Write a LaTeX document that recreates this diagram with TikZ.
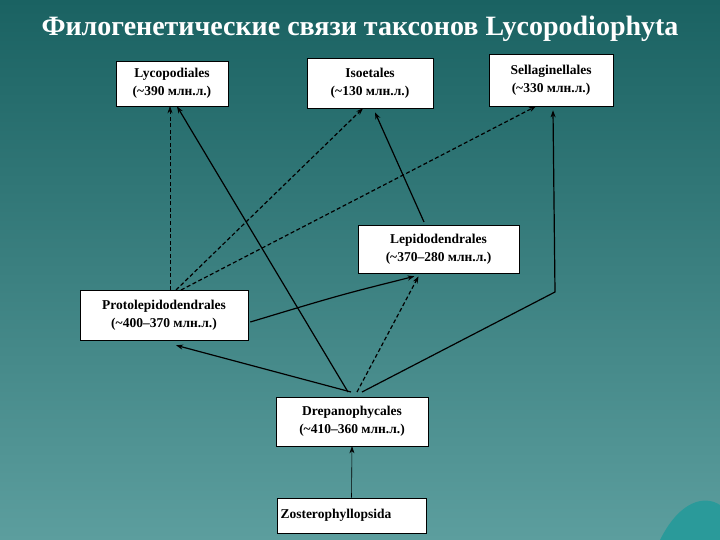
\documentclass[tikz,border=0pt]{standalone}
\usepackage{fontspec}
\setmainfont{Liberation Serif}
\usetikzlibrary{arrows.meta}
\definecolor{bgtop}{HTML}{1A6262}
\definecolor{bgbot}{HTML}{5C9E9E}
\definecolor{blob}{HTML}{2A9A9A}
\begin{document}
\begin{tikzpicture}[x=1pt,y=-1pt,
  box/.style={draw=black,fill=white,line width=0.6pt,inner sep=0pt,align=center,font=\bfseries\fontsize{13.5}{18}\selectfont},
  ar/.style={-{Stealth[length=7pt,width=5pt]},line width=1.2pt},
  dar/.style={ar,dashed,dash pattern=on 4pt off 2.5pt}]
\shade[top color=bgtop,bottom color=bgbot] (0,0) rectangle (720,540);
\useasboundingbox (0,0) rectangle (720,540);
\fill[blob] (660,540) .. controls (680,500) and (705,495) .. (720,505) -- (720,540) -- cycle;
\node[white,font=\bfseries\fontsize{28}{30}\selectfont] (title) at (360,29) {Филогенетические связи таксонов Lycopodiophyta};
\node[box,minimum width=112pt,minimum height=45pt] (lyc) at (172,83.5) {Lycopodiales\\(\textasciitilde390 млн.л.)};
\node[box,minimum width=126pt,minimum height=50pt] (iso) at (370,83) {Isoetales\\(\textasciitilde130 млн.л.)};
\node[box,minimum width=124pt,minimum height=52pt] (sel) at (551,80) {Sellaginellales\\(\textasciitilde330 млн.л.)};
\node[box,minimum width=161pt,minimum height=48pt] (lep) at (438.5,249) {Lepidodendrales\\(\textasciitilde370–280 млн.л.)};
\node[box,minimum width=168pt,minimum height=50pt] (pro) at (164,315) {Protolepidodendrales\\(\textasciitilde400–370 млн.л.)};
\node[box,minimum width=152pt,minimum height=49pt] (dre) at (352,421.5) {Drepanophycales\\(\textasciitilde410–360 млн.л.)};
\node[box,minimum width=149pt,minimum height=35pt,text width=142pt,align=left] (zos) at (351.5,515.5) {Zosterophyllopsida};
\coordinate (p1) at (170,290);
\coordinate (p2) at (176,290);
\coordinate (p3) at (181,290);
\coordinate (d1) at (348,392);
\coordinate (d2) at (351,392);
\coordinate (d3) at (357,392);
\coordinate (d4) at (362,392);
\coordinate (bend) at (555,292);
\coordinate (lt) at (424,222);
\draw[dar,line width=0.6pt] (p1) -- (lyc.south -| p1);
\draw[dar] (p2) -- ([xshift=-7pt]iso.south);
\draw[dar] (p3) -- ([xshift=-15pt]sel.south);
\draw[ar] (pro.east) ++(2,7) .. controls (340,295) .. ([xshift=-24pt,yshift=-3pt]lep.south);
\draw[ar] (d1) -- ([xshift=5pt]lyc.south);
\draw[ar] (d2) -- ([xshift=12pt,yshift=-5pt]pro.south);
\draw[dar] (d3) -- ([xshift=-20pt,yshift=-3pt]lep.south);
\draw[ar] (d4) -- (bend) -- ([xshift=2pt,yshift=-4pt]sel.south);
\draw[ar] (lt) -- ([xshift=5pt,yshift=-4pt]iso.south);
\draw[ar,line width=0.6pt] (zos.north) -- (dre.south);
\end{tikzpicture}
\end{document}
